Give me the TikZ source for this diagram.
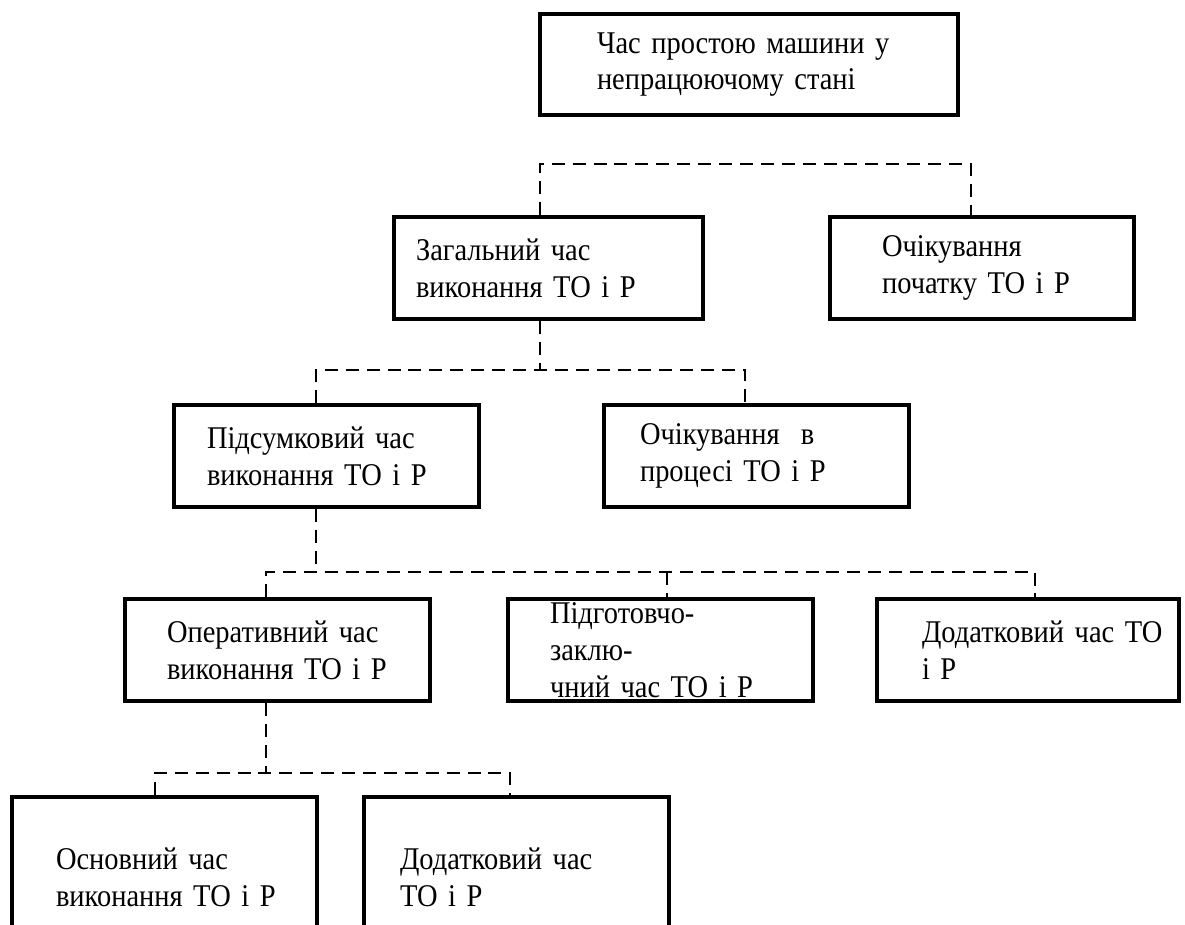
\documentclass[tikz,border=0pt]{standalone}
\usepackage{fontspec}
\setmainfont{Liberation Serif}[FakeStretch=0.9]

\begin{document}
\begin{tikzpicture}[x=0.02cm,y=-0.02cm]
        \tikzset{blok/.style = {draw, line width=2.3pt, anchor=north west, align=left, inner ysep=0pt, minimum height=2.04cm, font=\fontsize{18}{21}\selectfont}};
        \tikzset{link/.style = {line width=1pt, dash pattern=on 7.4pt off 4.5pt}};
        \useasboundingbox (0,0) rectangle (1185,924);
        \clip (0,0) rectangle (1185,924);
        \node[blok, minimum width=8.36cm, minimum height=2.02cm, inner xsep=1.14cm, text width=6.08cm] (a) at (538,12) {Час~простою~машини~у\\непрацюючому~стані};
        \node[blok, minimum width=6.18cm, inner xsep=0.44cm, text width=5.3cm] (b) at (392,215) {Загальний~час\\виконання~ТО~і~Р};
        \node[blok, minimum width=6.08cm, inner xsep=1.04cm, text width=4.0cm] (c) at (828,215) {Очікування\\початку~ТО~і~Р};
        \node[blok, minimum width=6.1cm, inner xsep=0.66cm, text width=4.78cm] (d) at (172,403) {Підсумковий~час\\виконання~ТО~і~Р};
        \node[blok, minimum width=6.1cm, inner xsep=0.72cm, text width=4.66cm] (e) at (602,403) {Очікування~~в\\процесі~ТО~і~Р};
        \node[blok, minimum width=6.1cm, inner xsep=0.84cm, text width=4.42cm] (f) at (123,597) {Оперативний~час\\виконання~ТО~і~Р};
        \node[blok, minimum width=6.1cm, inner xsep=0.84cm, text width=4.42cm] (g) at (506,597) {Підготовчо-заклю-\\чний~час~ТО~і~Р};
        \node[blok, minimum width=6.04cm, inner xsep=0.9cm, text width=4.24cm] (h) at (875,597) {Додатковий~час~ТО\\і~Р};
        \node[blok, minimum width=6.1cm, minimum height=3.2cm, inner xsep=0.88cm, text width=4.34cm] (i) at (10,795) {Основний~час\\виконання~ТО~і~Р};
        \node[blok, minimum width=6.1cm, minimum height=3.2cm, inner xsep=0.72cm, text width=4.66cm] (j) at (362,795) {Додатковий~час\\ТО~і~Р};
        % level 1
        \coordinate (k1) at (540,164);
        \coordinate (k2) at (971,164);
        \draw[link] (b.north -| k1) -- (k1) -- (k2) -- (c.north -| k2);
        % level 2
        \coordinate (k3) at (540,370);
        \coordinate (k4) at (316,370);
        \coordinate (k5) at (745,370);
        \draw[link] (b.south -| k3) -- (k3);
        \draw[link] (d.north -| k4) -- (k4) -- (k5) -- (e.north -| k5);
        % level 3
        \coordinate (k6) at (316,572);
        \coordinate (k7) at (266,572);
        \coordinate (k8) at (667,572);
        \coordinate (k9) at (1035,572);
        \draw[link] (d.south -| k6) -- (k6);
        \draw[link] (f.north -| k7) -- (k7) -- (k9) -- (h.north -| k9);
        \draw[link] (k8) -- (g.north -| k8);
        % level 4
        \coordinate (k10) at (266,773);
        \coordinate (k11) at (155,773);
        \coordinate (k12) at (510,773);
        \draw[link] (f.south -| k10) -- (k10);
        \draw[link] (i.north -| k11) -- (k11) -- (k12) -- (j.north -| k12);
    \end{tikzpicture}
\end{document}
